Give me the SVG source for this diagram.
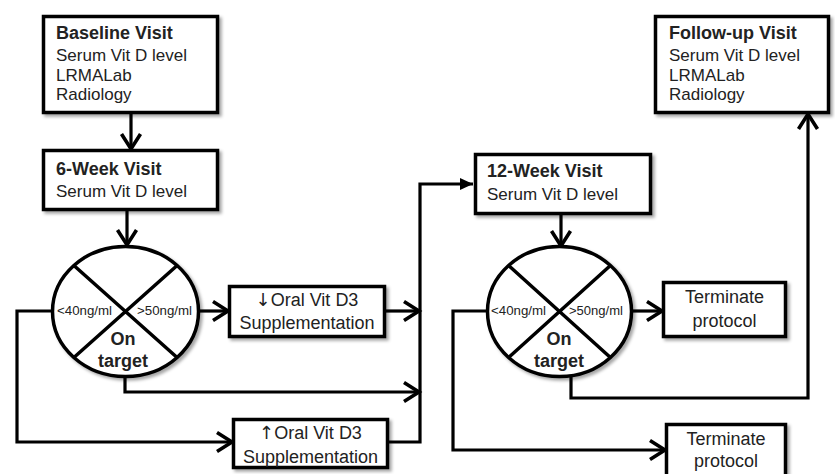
<svg xmlns="http://www.w3.org/2000/svg" width="835" height="474" viewBox="0 0 835 474">
<defs>
<style>
.box{fill:#fff;stroke:#000;stroke-width:3.5;filter:url(#sh)}
.ell{fill:#fff;stroke:#000;stroke-width:3.5;filter:url(#sh)}
.x{stroke:#000;stroke-width:3.5;fill:none}
.t{font-family:"Liberation Sans",Arial,sans-serif;fill:#222}
.h{font-size:18px;font-weight:bold}
.b{font-size:17px}
.c{font-size:18px;text-anchor:middle}
.lab{font-size:12px}
.on{font-size:18px;font-weight:bold;text-anchor:middle}
.ar{font-family:"DejaVu Sans",sans-serif;font-size:18px}
.con path{fill:none;stroke:#000;stroke-width:3.2;stroke-linejoin:miter}
</style>
<filter id="sh" x="-10%" y="-10%" width="130%" height="140%">
<feDropShadow dx="2.5" dy="2.5" stdDeviation="1.8" flood-color="#000" flood-opacity="0.35"/>
</filter>
<marker id="open" markerUnits="userSpaceOnUse" markerWidth="20" markerHeight="22" refX="14" refY="10" orient="auto" overflow="visible">
<path d="M0,0.5 L15,10 L0,19.5" fill="none" stroke="#000" stroke-width="3.6"/>
</marker>
<marker id="fill" markerUnits="userSpaceOnUse" markerWidth="14" markerHeight="14" refX="13" refY="6" orient="auto" overflow="visible">
<path d="M0,0 L13,6 L0,12 z" fill="#000"/>
</marker>
</defs>
<rect width="835" height="474" fill="#fff"/>

<g id="connectors" class="con">
<path d="M131,114 V148" marker-end="url(#open)"/>
<path d="M127,211 V244" marker-end="url(#open)"/>
<path d="M200,311 H227" marker-end="url(#open)"/>
<path d="M386,311 H418" marker-end="url(#open)"/>
<path d="M125,378 V392 H418" marker-end="url(#open)"/>
<path d="M52,311 H17 V442 H231" marker-end="url(#open)"/>
<path d="M389,442 H420 V184 H473" marker-end="url(#fill)"/>
<path d="M561,215 V245" marker-end="url(#open)"/>
<path d="M632,311 H661" marker-end="url(#open)"/>
<path d="M487,311 H453 V450 H664" marker-end="url(#open)"/>
<path d="M571,377 V398 H808 V115" marker-end="url(#open)"/>
</g>

<g id="baseline">
<rect class="box" x="43.5" y="16.5" width="174" height="96"/>
<text class="t h" x="56" y="39">Baseline Visit</text>
<text class="t b" x="56" y="61">Serum Vit D level</text>
<text class="t b" x="56" y="81">LRMALab</text>
<text class="t b" x="56" y="100">Radiology</text>
</g>

<g id="week6">
<rect class="box" x="43.5" y="150.5" width="174" height="59"/>
<text class="t h" x="56" y="175">6-Week Visit</text>
<text class="t b" x="56" y="197">Serum  Vit D level</text>
</g>

<g id="decision1">
<ellipse class="ell" cx="125.5" cy="311.5" rx="73" ry="65"/>
<path class="x" d="M73.9,265.5 L177.1,357.5 M177.1,265.5 L73.9,357.5"/>
<text class="t lab" x="57" y="315" textLength="55" lengthAdjust="spacingAndGlyphs">&lt;40ng/ml</text>
<text class="t lab" x="137" y="315" textLength="55" lengthAdjust="spacingAndGlyphs">&gt;50ng/ml</text>
<text class="t on" x="123" y="345">On</text>
<text class="t on" x="123" y="367">target</text>
</g>

<g id="decrease">
<rect class="box" x="229.5" y="286.5" width="155" height="50"/>
<text class="t c" x="307" y="306"><tspan class="ar">↓</tspan>Oral Vit D3</text>
<text class="t c" x="307" y="329">Supplementation</text>
</g>

<g id="increase">
<rect class="box" x="233.5" y="419.5" width="154" height="48"/>
<text class="t c" x="310.5" y="439"><tspan class="ar">↑</tspan>Oral Vit D3</text>
<text class="t c" x="310.5" y="463">Supplementation</text>
</g>

<g id="week12">
<rect class="box" x="475.5" y="154.5" width="175" height="59"/>
<text class="t h" x="487" y="177">12-Week Visit</text>
<text class="t b" x="487" y="200">Serum  Vit D level</text>
</g>

<g id="decision2">
<ellipse class="ell" cx="559.5" cy="311.5" rx="72" ry="65"/>
<path class="x" d="M508.6,265.5 L610.4,357.5 M610.4,265.5 L508.6,357.5"/>
<text class="t lab" x="491" y="315" textLength="55" lengthAdjust="spacingAndGlyphs">&lt;40ng/ml</text>
<text class="t lab" x="569" y="315" textLength="54" lengthAdjust="spacingAndGlyphs">&gt;50ng/ml</text>
<text class="t on" x="559" y="345">On</text>
<text class="t on" x="559" y="367">target</text>
</g>

<g id="terminate1">
<rect class="box" x="663.5" y="282.5" width="122" height="54"/>
<text class="t c" x="724.5" y="303">Terminate</text>
<text class="t c" x="724.5" y="327">protocol</text>
</g>

<g id="terminate2">
<rect class="box" x="666.5" y="424.5" width="119" height="60"/>
<text class="t c" x="726" y="445">Terminate</text>
<text class="t c" x="726" y="467">protocol</text>
</g>

<g id="followup">
<rect class="box" x="655.5" y="16.5" width="173" height="96"/>
<text class="t h" x="669" y="39">Follow-up Visit</text>
<text class="t b" x="669" y="61">Serum Vit D level</text>
<text class="t b" x="669" y="81">LRMALab</text>
<text class="t b" x="669" y="100">Radiology</text>
</g>
</svg>
